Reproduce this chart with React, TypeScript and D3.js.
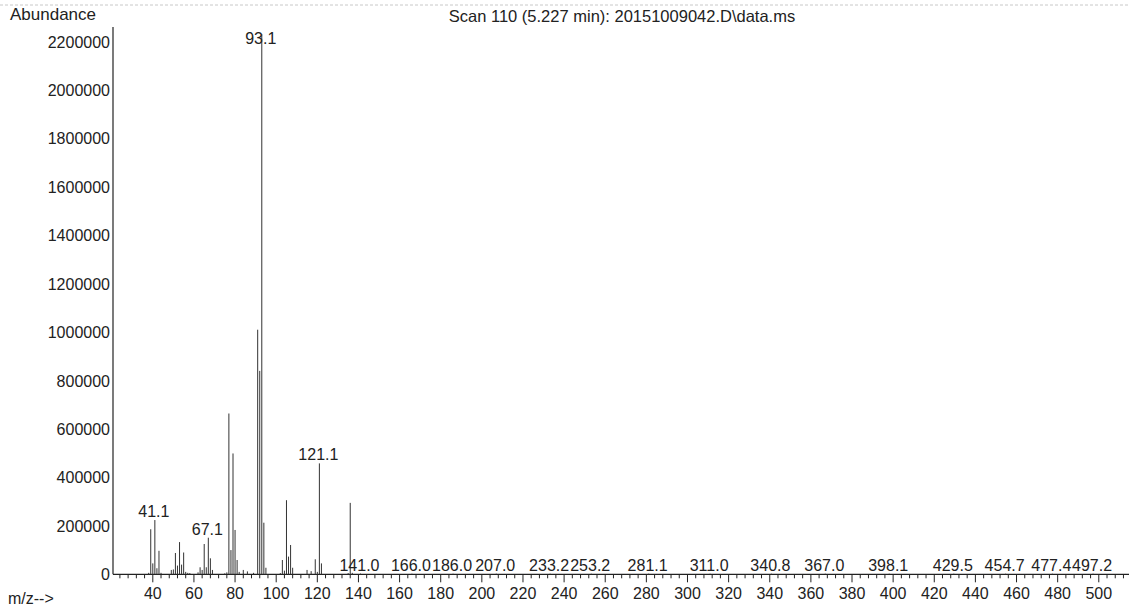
import React from 'react';
import * as d3 from 'd3';

// ---- data ----
const mzValues = [
  38, 39, 40, 41, 42, 43, 44,
  49, 50, 51, 52, 53, 54, 55, 56, 57, 58,
  62, 63, 64, 65, 66, 67, 68, 69,
  75, 76, 77, 78, 79, 80, 81, 82, 84, 86, 89,
  91, 92, 93, 94, 95,
  102, 103, 104, 105, 106, 107, 108,
  115, 117, 119, 120, 121, 122,
  135, 136, 137,
  141.0, 166.0, 186.0, 207.0, 233.2, 253.2, 281.1, 311.0, 340.8, 367.0, 398.1, 429.5, 454.7, 477.4, 497.2,
];
const abundances = [
  6000, 186000, 45000, 224000, 25000, 97000, 6000,
  18000, 20000, 88000, 36000, 133000, 40000, 90000, 10000, 6000, 5000,
  8000, 29000, 18000, 125000, 29000, 151000, 66000, 18000,
  4000, 8000, 664000, 100000, 499000, 183000, 59000, 10000, 18000, 12000, 6000,
  1010000, 840000, 2230000, 213000, 27000,
  5000, 59000, 15000, 306000, 73000, 121000, 27000,
  18000, 13000, 62000, 10000, 458000, 45000,
  5000, 295000, 6000,
  3000, 2500, 2500, 2500, 2500, 2500, 2500, 2500, 2500, 2500, 2500, 2500, 2500, 2500, 2500,
];
const peakLabelMz = [41.1, 67.1, 93.1, 121.1, 141.0, 166.0, 186.0, 207.0, 233.2, 253.2, 281.1, 311.0, 340.8, 367.0, 398.1, 429.5, 454.7, 477.4, 497.2];
const peakLabelText = ['41.1', '67.1', '93.1', '121.1', '141.0', '166.0', '186.0', '207.0', '233.2', '253.2', '281.1', '311.0', '340.8', '367.0', '398.1', '429.5', '454.7', '477.4', '497.2'];
const yTickValues = [0, 200000, 400000, 600000, 800000, 1000000, 1200000, 1400000, 1600000, 1800000, 2000000, 2200000];
const xMajorTicks = [40, 60, 80, 100, 120, 140, 160, 180, 200, 220, 240, 260, 280, 300, 320, 340, 360, 380, 400, 420, 440, 460, 480, 500];
const titleText = 'Scan 110 (5.227 min): 20151009042.D\\data.ms';

const W = 1129;
const H = 609;
const FONT = '"Liberation Sans", Arial, sans-serif';
const INK = '#222';

export default function App() {
  const xLeft = 113;
  const xRight = 1127;
  const slope = 2.0565;
  const x = d3
    .scaleLinear()
    .domain([40 - (152.8 - xLeft) / slope, 40 + (xRight - 152.8) / slope])
    .range([xLeft, xRight]);
  const y = d3.scaleLinear().domain([0, 2260000]).range([574.3, 27]);
  const y0 = y(0);

  const minorTicks = d3.range(24, 514, 4).filter((t) => t % 20 !== 0 || t < 40);

  const labels = peakLabelMz.map((lm, i) => {
    let best = 0;
    let bd = Infinity;
    mzValues.forEach((m, j) => {
      const d = Math.abs(m - lm);
      if (d < bd) {
        bd = d;
        best = j;
      }
    });
    const top = y(abundances[best]);
    return { x: x(mzValues[best]) - 1, y: Math.max(top - 3, 44), text: peakLabelText[i] };
  });

  return (
    <svg
      width={W}
      height={H}
      style={{ position: 'absolute', left: 0, top: 0, background: '#fff' }}
      fontFamily={FONT}
    >
      <rect x={0} y={0} width={W} height={H} fill="#fff" />
      <line x1={0} x2={W} y1={5} y2={5} stroke="#c8c8c8" strokeWidth={1} strokeDasharray="3,2" />

      <text x={10} y={20} fontSize={17} fill={INK}>Abundance</text>
      <text x={622} y={21.5} fontSize={16.5} fill={INK} textAnchor="middle">{titleText}</text>

      {/* y axis */}
      <line x1={xLeft} x2={xLeft} y1={27} y2={y0} stroke={INK} strokeWidth={1.2} />
      {yTickValues.map((v) => (
        <text key={v} x={110} y={y(v) + 6} fontSize={16} fill={INK} textAnchor="end">
          {v}
        </text>
      ))}

      {/* x axis */}
      <line x1={xLeft} x2={W} y1={y0} y2={y0} stroke={INK} strokeWidth={1.2} />
      {minorTicks.map((t) => (
        <line key={'m' + t} x1={x(t)} x2={x(t)} y1={y0} y2={y0 + 4} stroke={INK} strokeWidth={1} />
      ))}
      {xMajorTicks.map((t) => (
        <g key={'M' + t}>
          <line x1={x(t)} x2={x(t)} y1={y0} y2={y0 + 8} stroke={INK} strokeWidth={1} />
          <text x={x(t)} y={599} fontSize={16} fill={INK} textAnchor="middle">
            {t}
          </text>
        </g>
      ))}
      <text x={8} y={604} fontSize={16} fill={INK}>m/z--&gt;</text>

      {/* peaks */}
      {mzValues.map((m, i) => (
        <line
          key={'p' + i}
          x1={x(m)}
          x2={x(m)}
          y1={y0}
          y2={y(abundances[i])}
          stroke="#333"
          strokeWidth={1}
        />
      ))}

      {labels.map((l, i) => (
        <text key={'l' + i} x={l.x} y={l.y} fontSize={16} fill={INK} textAnchor="middle">
          {l.text}
        </text>
      ))}
    </svg>
  );
}
